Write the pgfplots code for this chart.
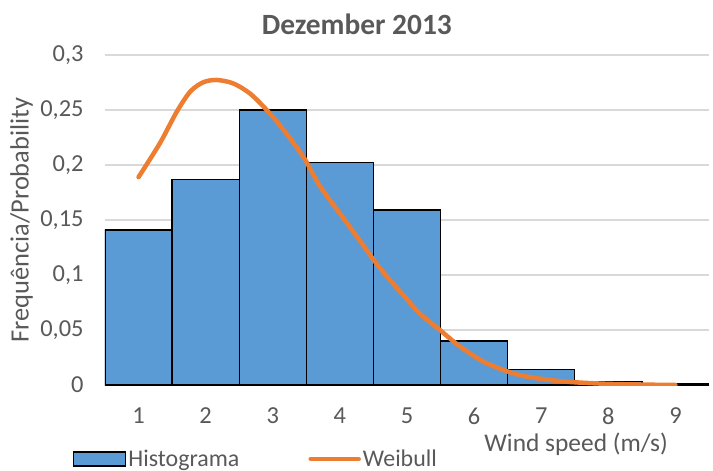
\documentclass[border=0pt]{standalone}
\usepackage{fontspec}
\setmainfont{Carlito}
\usepackage{pgfplots}
\pgfplotsset{compat=1.18}

\definecolor{barblue}{HTML}{5B9BD5}
\definecolor{weiorange}{HTML}{ED7D31}
\definecolor{txtgray}{HTML}{595959}
\definecolor{gridgray}{HTML}{D9D9D9}
\definecolor{axgray}{HTML}{BFBFBF}

\begin{document}
\begin{tikzpicture}
\useasboundingbox (-105bp,-86bp) rectangle (608bp,385bp);
\begin{axis}[
    at={(0,0)}, anchor=south west,
    scale only axis,
    width=604bp, height=330bp,
    xmin=0.5, xmax=9.5,
    ymin=0, ymax=0.3,
    xtick={1,2,3,4,5,6,7,8,9},
    ytick={0,0.05,0.1,0.15,0.2,0.25,0.3},
    yticklabels={0,{0,05},{0,1},{0,15},{0,2},{0,25},{0,3}},
    ymajorgrids,
    grid style={gridgray, line width=1.2bp},
    axis x line*=bottom,
    axis y line*=left,
    x axis line style={axgray, line width=1.5bp, -},
    y axis line style={draw=none},
    major tick length=0pt,
    tick style={draw=none},
    ticklabel style={font=\fontsize{24.5}{28}\selectfont, text=txtgray},
    xticklabel style={inner sep=0pt, anchor=center, yshift=-31bp},
    yticklabel style={xshift=-18bp},
    /pgf/number format/assume math mode=true,
    title={Dezember 2013},
    title style={font=\bfseries\fontsize{29.5}{34}\selectfont, text=txtgray,
        at={(axis description cs:0.417,1)}, anchor=center, yshift=25bp},
    xlabel={Wind speed (m/s)},
    xlabel style={font=\fontsize{25.5}{30}\selectfont, text=txtgray, inner sep=0pt,
        at={(axis description cs:0.78,-0.18)}, anchor=center},
    ylabel={Frequência/Probability},
    ylabel style={font=\fontsize{26.5}{30}\selectfont, text=txtgray,
        at={(axis description cs:-0.138,0.5)}, anchor=center},
    legend columns=2,
    legend style={draw=none, fill=none, inner sep=0pt,
        font=\fontsize{24}{28}\selectfont, text=txtgray,
        at={(axis description cs:-0.053,-0.224)}, anchor=west,
        /tikz/every even column/.append style={column sep=67bp}},
    legend cell align=left,
]
\addplot[ybar, bar width=1, fill=barblue, draw=black, line width=1.3bp,
    legend image code/.code={\draw[fill=barblue, draw=black, line width=1.3bp] (0bp,-7bp) rectangle (52bp,7bp);}]
coordinates {
    (1,0.141) (2,0.187) (3,0.250) (4,0.202) (5,0.159)
    (6,0.040) (7,0.014) (8,0.0035) (9,0.0012)
};
\addlegendentry{Histograma}

\addplot[weiorange, line width=4.5bp, smooth, line cap=round,
    legend image code/.code={\draw[weiorange, line width=4.5bp, line cap=round] (2bp,0bp) -- (50bp,0bp);}]
coordinates {
    (1,0.189) (1.32,0.220) (1.57,0.2485) (1.77,0.2667)
    (1.96,0.2751) (2.16,0.2773) (2.41,0.2742) (2.66,0.265) (2.91,0.250)
    (3.16,0.232) (3.46,0.207) (3.70,0.181) (4.0,0.156) (4.3,0.131)
    (4.6,0.106) (4.97,0.080) (5.19,0.065) (5.49,0.050) (5.79,0.035)
    (6.18,0.020) (6.68,0.009) (7.28,0.0035) (7.92,0.0012) (8.5,0.0004)
    (9,0.0)
};
\addlegendentry{Weibull}
\end{axis}
\end{tikzpicture}
\end{document}
